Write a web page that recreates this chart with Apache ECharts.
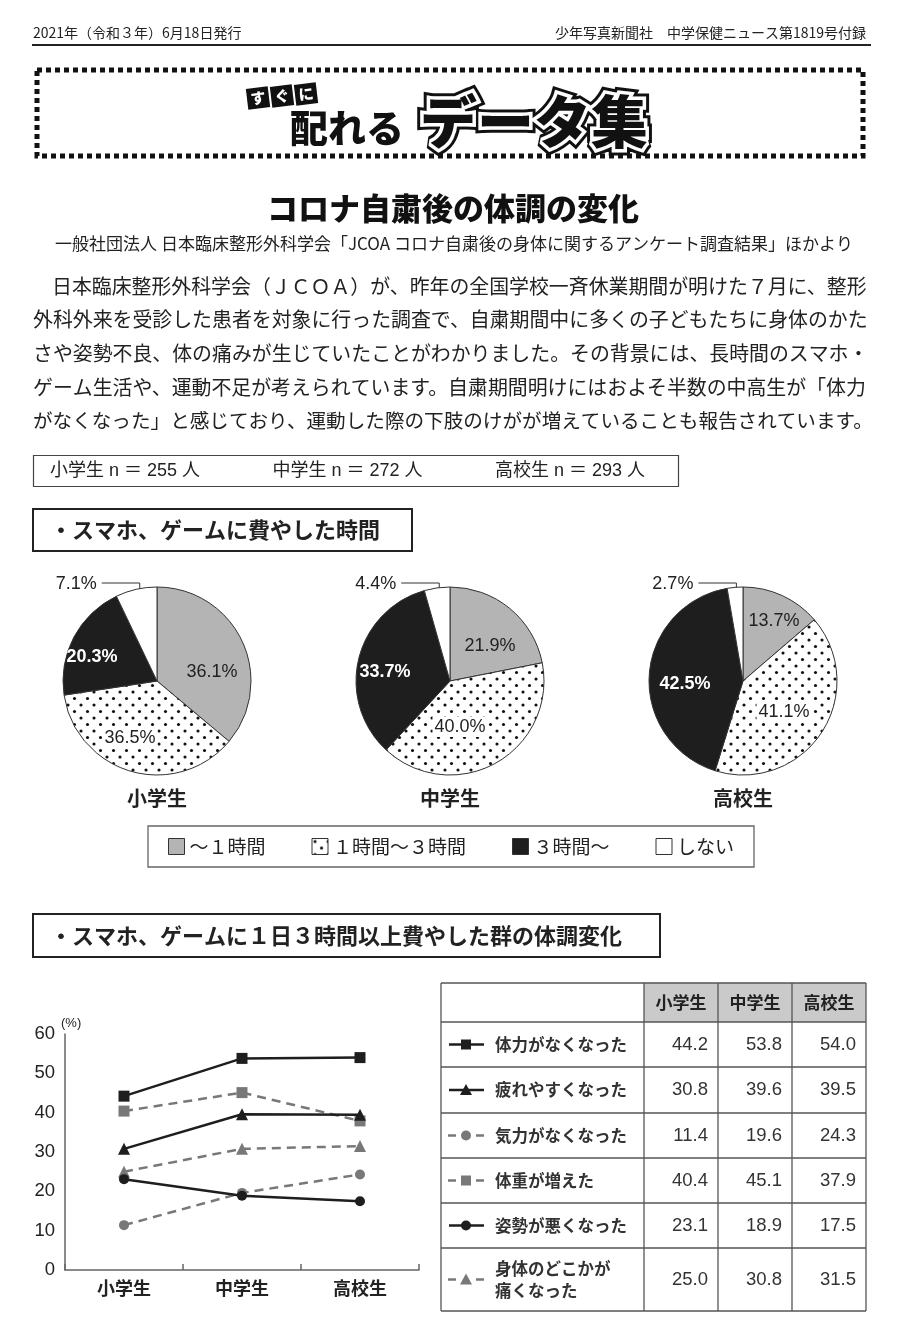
<!DOCTYPE html>
<html><head><meta charset="utf-8">
<script src="https://cdn.jsdelivr.net/npm/echarts@6/dist/echarts.min.js"></script>
<style>html,body{margin:0;padding:0;background:#fff}#c{width:906px;height:1332px}</style>
</head><body><div id="c"></div>
<script>
// ---------------- data ----------------
const pieGroups = ['小学生', '中学生', '高校生'];
const pieCategories = ['～１時間', '１時間～３時間', '３時間～', 'しない'];
const pieElementary = [36.1, 36.5, 20.3, 7.1];
const pieJunior = [21.9, 40.0, 33.7, 4.4];
const pieHigh = [13.7, 41.1, 42.5, 2.7];
const sampleSizes = [255, 272, 293];

const lineCategories = ['小学生', '中学生', '高校生'];
const symptomNames = ['体力がなくなった', '疲れやすくなった', '気力がなくなった', '体重が増えた', '姿勢が悪くなった', '身体のどこかが痛くなった'];
const symptomTableLabels = ['体力がなくなった', '疲れやすくなった', '気力がなくなった', '体重が増えた', '姿勢が悪くなった', '身体のどこかが\n痛くなった'];
const lossOfStamina = [44.2, 53.8, 54.0];
const tiredEasily = [30.8, 39.6, 39.5];
const lossOfMotivation = [11.4, 19.6, 24.3];
const weightGain = [40.4, 45.1, 37.9];
const poorPosture = [23.1, 18.9, 17.5];
const bodyPain = [25.0, 30.8, 31.5];
const yAxisMin = 0, yAxisMax = 60, yAxisStep = 10;

// ---------------- layout / style ----------------
const FF = "'Liberation Sans','Noto Sans CJK JP',sans-serif";
const JF = "'Noto Sans CJK JP','Noto Sans CJK SC',sans-serif";
const INK = '#1e1e1e';
const GRAYLINE = '#787878';
const pieValues = [pieElementary, pieJunior, pieHigh];
const pieCenters = [[157, 681], [450, 681], [743, 681]];
const pieRadius = 94;
const insideLabelOffsets = [
  [[55, -9], [-27, 57], [-65, -24]],
  [[40, -35], [10, 46], [-65, -9]],
  [[31, -60], [41, 31], [-58, 3]]
];
const symptomSeries = [lossOfStamina, tiredEasily, lossOfMotivation, weightGain, poorPosture, bodyPain];
const symptomStyles = [
  {dashed: false, symbol: 'rect'},
  {dashed: false, symbol: 'triangle'},
  {dashed: true, symbol: 'circle'},
  {dashed: true, symbol: 'rect'},
  {dashed: false, symbol: 'circle'},
  {dashed: true, symbol: 'triangle'}
];

function dotPattern() {
  const c = document.createElement('canvas');
  c.width = 13; c.height = 13;
  const g = c.getContext('2d');
  g.fillStyle = '#fff'; g.fillRect(0, 0, 13, 13);
  g.fillStyle = '#111';
  [[3, 3], [9.5, 9.5]].forEach(p => { g.beginPath(); g.arc(p[0], p[1], 1.55, 0, Math.PI * 2); g.fill(); });
  return c;
}
const sliceColors = ['#b4b4b4', {image: dotPattern(), repeat: 'repeat'}, INK, '#ffffff'];

// ---------------- graphic helpers ----------------
function T(x, y, text, size, opt) {
  opt = opt || {};
  return {type: 'text', x: x, y: y, silent: true, z: opt.z || 10, rotation: opt.rotation || 0,
    style: {text: text, fontSize: size, fontFamily: opt.family || JF, fontWeight: opt.weight || 'normal',
      fill: opt.fill || '#222', align: opt.align || 'left', verticalAlign: opt.va || 'middle',
      stroke: opt.stroke, lineWidth: opt.lineWidth || 0, lineHeight: opt.lineHeight, lineJoin: 'round'}};
}
function R(x, y, w, h, st, z) { return {type: 'rect', silent: true, z: z || 5, shape: {x: x, y: y, width: w, height: h}, style: st}; }
function L(x1, y1, x2, y2, st, z) { return {type: 'line', silent: true, z: z || 6, shape: {x1: x1, y1: y1, x2: x2, y2: y2}, style: st}; }

const g = [];
// header
g.push(T(33, 33, '2021年（令和３年）6月18日発行', 14));
g.push(T(866, 33, '少年写真新聞社　中学保健ニュース第1819号付録', 14, {align: 'right'}));
g.push(L(32, 45, 871, 45, {stroke: '#222', lineWidth: 2}));
g.push(R(37, 70, 826, 86, {fill: 'none', stroke: '#111', lineWidth: 5, lineDash: [5, 4]}));
// すぐに
['す', 'ぐ', 'に'].forEach((ch, i) => {
  g.push({type: 'group', x: 258 + i * 24, y: 98 - i * 2, rotation: 0.12, silent: true, z: 10, children: [
    {type: 'rect', shape: {x: -11, y: -10.5, width: 22, height: 21}, style: {fill: '#111'}},
    {type: 'text', style: {text: ch, x: 0, y: 0, fontSize: 15, fontWeight: 900, fontFamily: JF, fill: '#fff', align: 'center', verticalAlign: 'middle'}}
  ]});
});
g.push(T(290, 128, '配れる', 38, {weight: 900, fill: '#111'}));
g.push(T(420, 121, 'データ集', 57, {weight: 900, fill: '#111', stroke: '#111', lineWidth: 13}));
g.push(T(420, 121, 'データ集', 57, {weight: 900, fill: '#fff', stroke: '#fff', lineWidth: 7, z: 11}));
g.push(T(420, 121, 'データ集', 57, {weight: 900, fill: '#111', z: 12}));
// title
g.push(T(453, 208, 'コロナ自粛後の体調の変化', 31, {weight: 900, align: 'center', fill: '#111'}));
g.push(T(454, 244, '一般社団法人 日本臨床整形外科学会「JCOA コロナ自粛後の身体に関するアンケート調査結果」ほかより', 17, {align: 'center'}));
const para = [
  [52, '日本臨床整形外科学会（ＪＣＯＡ）が、昨年の全国学校一斉休業期間が明けた７月に、整形'],
  [33, '外科外来を受診した患者を対象に行った調査で、自粛期間中に多くの子どもたちに身体のかた'],
  [33, 'さや姿勢不良、体の痛みが生じていたことがわかりました。その背景には、長時間のスマホ・'],
  [33, 'ゲーム生活や、運動不足が考えられています。自粛期間明けにはおよそ半数の中高生が「体力'],
  [33, 'がなくなった」と感じており、運動した際の下肢のけがが増えていることも報告されています。']
];
para.forEach((p, i) => g.push(T(p[0], 286 + i * 33.7, p[1], i === 4 ? 19.6 : 19.9)));
// sample sizes
g.push(R(33.5, 455.5, 645, 31, {fill: 'none', stroke: '#444', lineWidth: 1.2}));
pieGroups.forEach((name, i) => g.push(T(50 + i * 222.5, 471, name + ' n ＝ ' + sampleSizes[i] + ' 人', 18, {family: FF})));
// section headers
g.push(R(33, 509, 379, 42, {fill: 'none', stroke: '#222', lineWidth: 2}));
g.push(T(50, 530, '・スマホ、ゲームに費やした時間', 22, {weight: 'bold'}));
g.push(R(33, 914, 627, 43, {fill: 'none', stroke: '#222', lineWidth: 2}));
g.push(T(50, 936, '・スマホ、ゲームに１日３時間以上費やした群の体調変化', 22, {weight: 'bold'}));
// pie group names
pieGroups.forEach((name, i) => g.push(T(pieCenters[i][0], 798, name, 20, {weight: 'bold', align: 'center'})));

// table
const colX = [441, 644, 718, 792, 866];
const rowY = [983, 1022, 1067, 1113, 1158, 1203, 1248, 1311];
for (let j = 1; j < 4; j++) g.push(R(colX[j], rowY[0], colX[j + 1] - colX[j], rowY[1] - rowY[0], {fill: '#cacaca'}, 4));
rowY.forEach(y => g.push(L(colX[0], y, colX[4], y, {stroke: '#555', lineWidth: 1.3})));
colX.forEach(x => g.push(L(x, rowY[0], x, rowY[rowY.length - 1], {stroke: '#555', lineWidth: 1.3})));
lineCategories.forEach((c, j) => g.push(T((colX[j + 1] + colX[j + 2]) / 2, (rowY[0] + rowY[1]) / 2, c, 17, {weight: 'bold', align: 'center'})));
function markerShape(sym, cx, cy, color) {
  if (sym === 'rect') return {type: 'rect', silent: true, z: 8, shape: {x: cx - 5, y: cy - 5, width: 10, height: 10}, style: {fill: color}};
  if (sym === 'circle') return {type: 'circle', silent: true, z: 8, shape: {cx: cx, cy: cy, r: 5}, style: {fill: color}};
  return {type: 'polygon', silent: true, z: 8, shape: {points: [[cx, cy - 6], [cx + 6, cy + 5], [cx - 6, cy + 5]]}, style: {fill: color}};
}
symptomSeries.forEach((vals, i) => {
  const yc = (rowY[i + 1] + rowY[i + 2]) / 2;
  const st = symptomStyles[i];
  const col = st.dashed ? GRAYLINE : INK;
  if (st.dashed) {
    g.push(L(448, yc, 456, yc, {stroke: col, lineWidth: 2.5}));
    g.push(L(476, yc, 484, yc, {stroke: col, lineWidth: 2.5}));
  } else {
    g.push(L(449, yc, 484, yc, {stroke: col, lineWidth: 2.5}));
  }
  g.push(markerShape(st.symbol, 466, yc, col));
  g.push(T(495, yc, symptomTableLabels[i], 16.5, {weight: 'bold', fill: '#333', lineHeight: 22}));
  vals.forEach((v, j) => g.push(T(colX[j + 2] - 10, yc, v.toFixed(1), 18.5, {family: FF, fill: '#333', align: 'right'})));
});

// ---------------- series ----------------
const series = [];
pieValues.forEach((vals, si) => {
  const total = vals.reduce((a, b) => a + b, 0);
  series.push({
    type: 'pie', center: pieCenters[si], radius: pieRadius, startAngle: 90, clockwise: true,
    avoidLabelOverlap: false, silent: true, animation: false,
    itemStyle: {borderColor: '#333', borderWidth: 1},
    emphasis: {disabled: true},
    labelLine: {show: false},
    label: {show: true, position: 'inside', fontFamily: FF, fontSize: 18, color: '#222',
      formatter: p => p.value.toFixed(1) + '%'},
    data: vals.map((v, i) => {
      const d = {name: pieCategories[i], value: v, itemStyle: {color: sliceColors[i]}};
      if (i === 1) d.label = {backgroundColor: '#fff', padding: [1, 2]};
      if (i === 2) d.label = {color: '#fff', fontWeight: 'bold'};
      if (i === 3) {
        d.label = {position: 'outside'};
        d.labelLine = {show: true, length: 10, length2: 20, smooth: false, lineStyle: {color: '#333', width: 1}};
      }
      return d;
    }),
    labelLayout: function (params) {
      const di = params.dataIndex;
      const c = pieCenters[si];
      if (di < 3) {
        const o = insideLabelOffsets[si][di];
        return {x: c[0] + o[0], y: c[1] + o[1], align: 'center', verticalAlign: 'middle'};
      }
      let cum = 0;
      for (let k = 0; k < di; k++) cum += vals[k];
      const mid = (cum + vals[di] / 2) / total * Math.PI * 2;
      const ax = c[0] + Math.sin(mid) * pieRadius * 0.83;
      const ay = c[1] - Math.cos(mid) * pieRadius * 0.83;
      const by = c[1] - pieRadius - 4;
      const cx = ax - 38;
      return {x: cx - 5, y: by + 1, align: 'right', verticalAlign: 'middle',
        labelLinePoints: [[ax, ay], [ax, by], [cx, by]]};
    }
  });
});
symptomSeries.forEach((vals, i) => {
  const st = symptomStyles[i];
  const col = st.dashed ? GRAYLINE : INK;
  series.push({
    type: 'line', name: symptomNames[i], data: vals, xAxisIndex: 0, yAxisIndex: 0,
    symbol: st.symbol, symbolSize: st.symbol === 'circle' ? 10 : (st.symbol === 'rect' ? 11 : 12),
    showSymbol: true, silent: true, animation: false, z: st.dashed ? 2 : 3,
    lineStyle: {color: col, width: 2.5, type: st.dashed ? [9, 6] : 'solid'},
    itemStyle: {color: col}
  });
});

const option = {
  backgroundColor: '#ffffff',
  animation: false,
  textStyle: {fontFamily: JF},
  legend: {
    data: pieCategories, left: 148, top: 826, padding: [11, 20], selectedMode: false,
    borderColor: '#666', borderWidth: 1.3, itemWidth: 16, itemHeight: 16, itemGap: 46,
    icon: 'rect', itemStyle: {borderColor: '#333', borderWidth: 1},
    textStyle: {fontSize: 19, color: '#222', fontFamily: JF}
  },
  grid: {left: 65, top: 1034, width: 354, height: 236, containLabel: false},
  xAxis: {type: 'category', data: lineCategories, boundaryGap: true,
    axisLine: {lineStyle: {color: '#666', width: 1.5}},
    axisTick: {show: true, inside: true, length: 6, lineStyle: {color: '#666', width: 1.5}},
    axisLabel: {fontSize: 18, fontWeight: 'bold', color: '#222', margin: 9, fontFamily: JF}},
  yAxis: {type: 'value', min: yAxisMin, max: yAxisMax, interval: yAxisStep,
    axisLine: {show: true, lineStyle: {color: '#666', width: 1.5}},
    axisTick: {show: false}, splitLine: {show: false},
    axisLabel: {fontSize: 18.5, color: '#222', margin: 10, fontFamily: FF},
    name: '(%)', nameLocation: 'end', nameGap: 4,
    nameTextStyle: {fontSize: 13, color: '#222', align: 'left', padding: [0, 0, 0, -4], fontFamily: FF}},
  graphic: {elements: g},
  series: series
};
const chart = echarts.init(document.getElementById('c'), null, {renderer: 'canvas'});
chart.setOption(option);
</script></body></html>
